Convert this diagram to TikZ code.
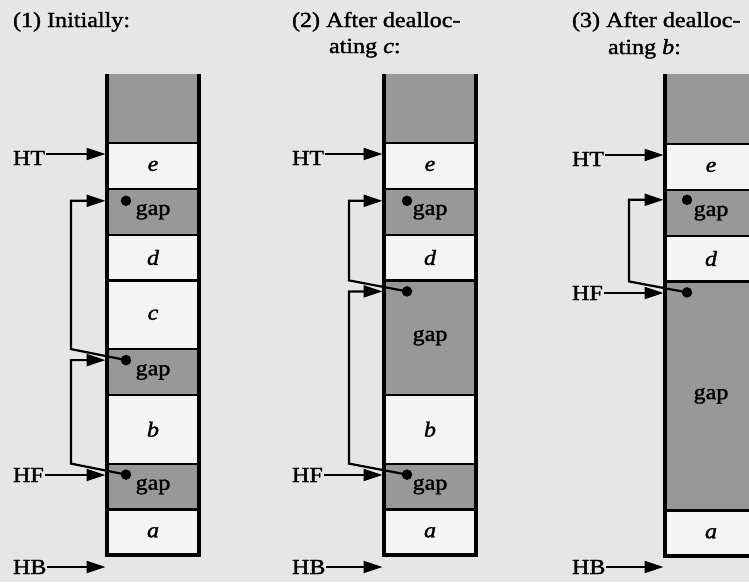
\documentclass[tikz,border=0pt]{standalone}
\usepackage{fontspec}
\setmainfont{Liberation Serif}[FakeBold=1.4]
\usepackage{graphicx}
\usetikzlibrary{arrows.meta,calc}
\definecolor{bgc}{RGB}{230,230,230}
\definecolor{wc}{RGB}{244,244,244}
\definecolor{gc}{RGB}{152,152,152}
\newcommand\sx[1]{\scalebox{1.12}[1]{#1}}
\begin{document}
\begin{tikzpicture}[x=1pt,y=-1pt,
 lab/.style={font=\fontsize{21.5}{25}\selectfont, inner sep=0pt, outer sep=0pt},
 cellbox/.style={draw=black, line width=2.2pt, minimum width=92pt, anchor=north west, inner sep=0pt, outer sep=0pt, font=\fontsize{21.5}{25}\selectfont},
 wcell/.style={cellbox, fill=wc},
 gcell/.style={cellbox, fill=gc},
 topcell/.style={cellbox, draw=none, fill=gc},
 outerline/.style={line width=3.8pt, line join=miter},
 arr/.style={line width=2.2pt, -{Triangle[length=19pt,width=12pt]}, shorten >=1.5pt, shorten <=1pt},
 fdot/.style={circle, fill=black, inner sep=0pt, minimum size=10.5pt},
]
\useasboundingbox (0,0) rectangle (749,582);
\fill[bgc] (0,0) rectangle (749,582);
\clip (0,0) rectangle (749,582);

% ---------- titles
\node[lab, anchor=base west] (ti1) at (13,27) {\sx{(1) Initially:}};
\node[lab, anchor=base west] (ti2a) at (292,27) {\sx{(2) After dealloc-}};
\node[lab, anchor=base west] (ti2b) at (329,53) {\sx{ating \textit{c}:}};
\node[lab, anchor=base west] (ti3a) at (572,27) {\sx{(3) After dealloc-}};
\node[lab, anchor=base west] (ti3b) at (608,54) {\sx{ating \textit{b}:}};

% ---------- column 1
\node[topcell, minimum height=69pt] (a0) at (107,74) {};
\node[wcell, minimum height=45.8pt] (a1) at (a0.south west) {\sx{\raisebox{-3pt}{\textit{e}}}};
\node[gcell, minimum height=45.8pt] (a2) at (a1.south west) {\sx{\raisebox{-9pt}{gap}}};
\node[wcell, minimum height=45.8pt] (a3) at (a2.south west) {\sx{\raisebox{-3pt}{\textit{d}}}};
\node[wcell, minimum height=68.7pt] (a4) at (a3.south west) {\sx{\raisebox{-3pt}{\textit{c}}}};
\node[gcell, minimum height=45.8pt] (a5) at (a4.south west) {\sx{\raisebox{-9pt}{gap}}};
\node[wcell, minimum height=68.7pt] (a6) at (a5.south west) {\sx{\raisebox{-3pt}{\textit{b}}}};
\node[gcell, minimum height=45.8pt] (a7) at (a6.south west) {\sx{\raisebox{-9pt}{gap}}};
\node[wcell, minimum height=45.8pt] (a8) at (a7.south west) {\sx{\raisebox{-3pt}{\textit{a}}}};
\draw[outerline] (a0.north west) -- (a8.south west) -- (a8.south east) -- (a0.north east);

\coordinate (pa2) at ($(a2.north west)+(19,12)$);
\coordinate (pa5) at ($(a5.north west)+(19,11)$);
\coordinate (pa7) at ($(a7.north west)+(19,11)$);
\coordinate (ka5) at ($(a5.north west)+(-36,0)$);
\coordinate (ka7) at ($(a7.north west)+(-36,0)$);
\draw[arr] (pa5) -- (ka5) |- (pa2 -| a2.west);
\draw[arr] (pa7) -- (ka7) |- (pa5 -| a5.west);
\node[fdot] (da2) at (pa2) {};
\node[fdot] (da5) at (pa5) {};
\node[fdot] (da7) at (pa7) {};

\node[lab, anchor=west] (ht1) at (13,158) {\sx{HT}};
\node[lab, anchor=west] (hf1) at (13,475) {\sx{HF}};
\node[lab, anchor=west] (hb1) at (13,567) {\sx{HB}};
\coordinate (sht1) at ($(ht1.east)+(0,-4)$);
\draw[arr] (sht1) -- (sht1 -| a1.west);
\draw[arr] (hf1.east) -- (hf1.east -| a7.west);
\draw[arr] (hb1.east) -- (hb1.east -| a8.west);

% ---------- column 2
\node[topcell, minimum height=69pt] (b0) at (384,74) {};
\node[wcell, minimum height=45.8pt] (b1) at (b0.south west) {\sx{\raisebox{-3pt}{\textit{e}}}};
\node[gcell, minimum height=45.8pt] (b2) at (b1.south west) {\sx{\raisebox{-9pt}{gap}}};
\node[wcell, minimum height=45.8pt] (b3) at (b2.south west) {\sx{\raisebox{-3pt}{\textit{d}}}};
\node[gcell, minimum height=114.5pt] (b4) at (b3.south west) {\sx{gap}};
\node[wcell, minimum height=68.7pt] (b6) at (b4.south west) {\sx{\raisebox{-3pt}{\textit{b}}}};
\node[gcell, minimum height=45.8pt] (b7) at (b6.south west) {\sx{\raisebox{-9pt}{gap}}};
\node[wcell, minimum height=45.8pt] (b8) at (b7.south west) {\sx{\raisebox{-3pt}{\textit{a}}}};
\draw[outerline] (b0.north west) -- (b8.south west) -- (b8.south east) -- (b0.north east);

\coordinate (pb2) at ($(b2.north west)+(23,12)$);
\coordinate (pb4) at ($(b4.north west)+(23,11)$);
\coordinate (pb7) at ($(b7.north west)+(23,11)$);
\coordinate (kb4) at ($(b4.north west)+(-35,0)$);
\coordinate (kb7) at ($(b7.north west)+(-35,0)$);
\draw[arr] (pb4) -- (kb4) |- (pb2 -| b2.west);
\draw[arr] (pb7) -- (kb7) |- (pb4 -| b4.west);
\node[fdot] (db2) at (pb2) {};
\node[fdot] (db4) at (pb4) {};
\node[fdot] (db7) at (pb7) {};

\node[lab, anchor=west] (ht2) at (292,158) {\sx{HT}};
\node[lab, anchor=west] (hf2) at (292,475) {\sx{HF}};
\node[lab, anchor=west] (hb2) at (292,567) {\sx{HB}};
\coordinate (sht2) at ($(ht2.east)+(0,-4)$);
\draw[arr] (sht2) -- (sht2 -| b1.west);
\draw[arr] (hf2.east) -- (hf2.east -| b7.west);
\draw[arr] (hb2.east) -- (hb2.east -| b8.west);

% ---------- column 3
\node[topcell, minimum height=70pt] (c0) at (665,74) {};
\node[wcell, minimum height=45.8pt] (c1) at (c0.south west) {\sx{\raisebox{-3pt}{\textit{e}}}};
\node[gcell, minimum height=45.8pt] (c2) at (c1.south west) {\sx{\raisebox{-9pt}{gap}}};
\node[wcell, minimum height=45.8pt] (c3) at (c2.south west) {\sx{\raisebox{-3pt}{\textit{d}}}};
\node[gcell, minimum height=229pt] (c4) at (c3.south west) {\sx{gap}};
\node[wcell, minimum height=45.8pt] (c8) at (c4.south west) {\sx{\raisebox{-3pt}{\textit{a}}}};
\draw[outerline] (c0.north west) -- (c8.south west) -- (c8.south east) -- (c0.north east);

\coordinate (pc2) at ($(c2.north west)+(22,10)$);
\coordinate (pc4) at ($(c4.north west)+(22,11)$);
\coordinate (kc4) at ($(c4.north west)+(-36,0)$);
\draw[arr] (pc4) -- (kc4) |- (pc2 -| c2.west);
\node[fdot] (dc2) at (pc2) {};
\node[fdot] (dc4) at (pc4) {};

\node[lab, anchor=west] (ht3) at (572,159) {\sx{HT}};
\node[lab, anchor=west] (hf3) at (572,293) {\sx{HF}};
\node[lab, anchor=west] (hb3) at (572,567) {\sx{HB}};
\coordinate (sht3) at ($(ht3.east)+(0,-4)$);
\draw[arr] (sht3) -- (sht3 -| c1.west);
\draw[arr] (hf3.east) -- (hf3.east -| c4.west);
\draw[arr] (hb3.east) -- (hb3.east -| c8.west);
\end{tikzpicture}
\end{document}
